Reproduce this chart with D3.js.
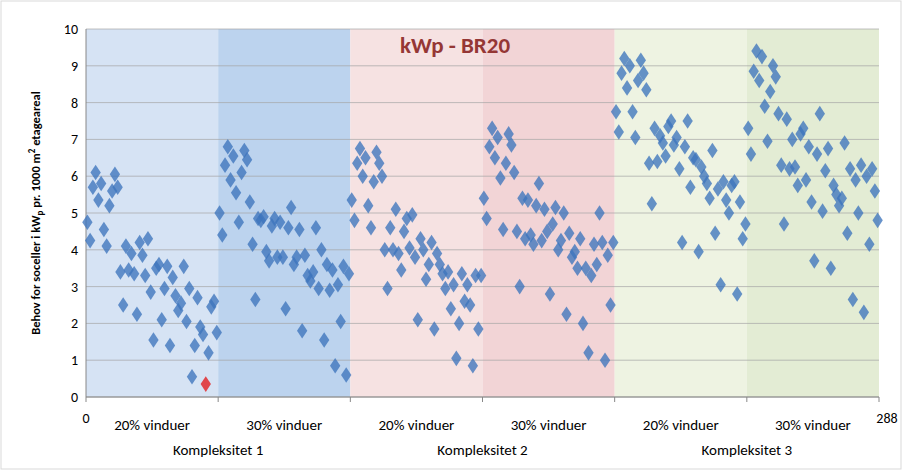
<!DOCTYPE html>
<html>
<head>
<script src="https://d3js.org/d3.v7.min.js"></script>
<style>
body{margin:0;background:#fff;font-family:Calibri,Carlito,"Liberation Sans",Arial,sans-serif;}
</style>
</head>
<body>
<div id="chart"></div>
<script>
// values per band of 48 points
var band1 = [4.75,4.25,5.7,6.1,5.35,5.8,4.55,4.1,5.2,5.6,6.05,5.7,3.4,2.5,4.1,3.45,3.9,3.35,2.25,4.2,3.85,3.3,4.3,2.85,1.55,3.5,3.6,2.1,2.95,3.55,1.4,3.25,2.75,2.35,2.55,3.55,2.05,2.95,0.55,1.4,2.7,1.9,1.7,0.35,1.2,2.45,2.6,1.75];
var band2 = [5.0,4.4,6.3,6.8,5.9,6.55,5.55,4.75,6.1,6.7,6.45,5.3,4.15,2.65,4.85,4.8,4.9,3.95,3.7,4.65,4.85,3.8,4.75,3.8,2.4,4.6,5.15,3.6,3.8,4.55,1.8,3.85,3.3,3.15,3.4,4.6,2.95,4.0,1.55,3.6,2.9,3.45,0.85,3.05,2.05,3.55,0.6,3.35];
var band3 = [5.35,4.8,6.35,6.75,6.0,6.5,5.2,4.6,5.85,6.65,6.35,6.0,4.0,2.95,4.6,4.0,5.1,3.9,3.45,4.5,4.85,4.05,4.95,3.8,2.1,4.3,4.0,3.2,3.6,4.2,1.85,3.9,3.6,3.35,2.95,3.4,2.4,3.05,1.05,2.0,3.35,2.6,3.05,2.5,0.85,3.3,1.85,3.3];
var band4 = [5.4,4.85,6.8,7.3,6.5,7.05,5.95,4.55,6.35,7.15,6.85,6.1,4.5,3.0,5.4,4.3,5.35,4.4,4.15,5.2,5.8,4.25,5.1,4.5,2.8,4.7,5.15,4.0,4.25,5.0,2.25,4.45,3.8,3.95,3.5,4.3,2.0,3.5,1.2,3.3,4.15,3.6,5.0,4.2,1.0,3.85,2.5,4.2];
var band5 = [7.75,7.2,8.8,9.2,8.4,9.0,7.75,7.05,8.6,9.15,8.8,8.35,6.35,5.25,7.3,6.4,7.1,6.9,6.55,7.35,7.5,6.85,7.05,6.2,4.2,6.8,7.5,5.7,6.5,6.45,3.95,6.25,6.0,5.8,5.4,6.7,4.45,5.65,3.05,5.85,5.35,5.0,5.75,5.85,2.8,5.3,4.3,4.7];
var band6 = [7.3,6.6,8.85,9.4,8.6,9.25,7.9,6.95,8.3,9.0,8.7,7.7,6.3,4.7,7.55,6.2,7.0,6.25,5.75,7.15,7.3,5.9,6.8,5.3,3.7,6.6,7.7,5.05,6.15,6.75,3.5,5.75,5.5,5.2,5.4,6.9,4.45,6.2,2.65,5.9,5.0,6.3,2.3,6.0,4.15,6.2,5.6,4.8];
var bandColors = ["#d6e3f4","#bcd3ee","#f6e2e2","#f2d4d6","#eef3e2","#e3ecd4"];
var windowLabels = ["20% vinduer","30% vinduer","20% vinduer","30% vinduer","20% vinduer","30% vinduer"];
var groupLabels = ["Kompleksitet 1","Kompleksitet 2","Kompleksitet 3"];
var yTicks = [0,1,2,3,4,5,6,7,8,9,10];
var redIndex = 43;

var values = [].concat(band1,band2,band3,band4,band5,band6);
var w=903, h=471;
var svg = d3.select("#chart").append("svg").attr("width",w).attr("height",h);
var x = d3.scaleLinear().domain([0,288]).range([86,879]);
var y = d3.scaleLinear().domain([0,10]).range([397,29]);

svg.append("rect").attr("x",1).attr("y",1).attr("width",w-3).attr("height",h-3)
	.attr("fill","none").attr("stroke","#d9d9d9");

// bands
svg.selectAll(".band").data(bandColors).enter().append("rect")
	.attr("x",function(d,i){return x(i*48);})
	.attr("width",function(d,i){return x((i+1)*48)-x(i*48);})
	.attr("y",y(10)).attr("height",y(0)-y(10))
	.attr("fill",function(d){return d;});

// gridlines
svg.selectAll(".grid").data(yTicks).enter().append("line")
	.attr("x1",x(0)).attr("x2",x(288))
	.attr("y1",function(d){return y(d);}).attr("y2",function(d){return y(d);})
	.attr("stroke","#a6a6a6").attr("stroke-width",1).attr("opacity",0.7);

svg.append("line").attr("x1",x(0)).attr("x2",x(0)).attr("y1",y(0)).attr("y2",y(10)).attr("stroke","#888");
svg.append("line").attr("x1",x(0)).attr("x2",x(288)).attr("y1",y(0)).attr("y2",y(0)).attr("stroke","#888");
svg.selectAll(".xt").data(d3.range(0,289,48)).enter().append("line")
	.attr("x1",function(d){return x(d);}).attr("x2",function(d){return x(d);})
	.attr("y1",y(0)).attr("y2",y(0)+5).attr("stroke","#888");

svg.selectAll(".yl").data(yTicks).enter().append("text")
	.attr("x",x(0)-8).attr("y",function(d){return y(d)+5;})
	.attr("text-anchor","end").attr("font-size",14).attr("fill","#000")
	.text(function(d){return d;});

svg.append("text").attr("x",x(0)).attr("y",423).attr("text-anchor","middle").attr("font-size",14).text("0");
svg.append("text").attr("x",x(288)+8).attr("y",423).attr("text-anchor","middle").attr("font-size",14).text("288");

svg.selectAll(".wl").data(windowLabels).enter().append("text")
	.attr("x",function(d,i){return x(i*48+24);}).attr("y",430)
	.attr("text-anchor","middle").attr("font-size",15).text(function(d){return d;});
svg.selectAll(".gl").data(groupLabels).enter().append("text")
	.attr("x",function(d,i){return x(i*96+48);}).attr("y",455)
	.attr("text-anchor","middle").attr("font-size",15).text(function(d){return d;});

// points
var sym = d3.symbol().type(d3.symbolDiamond).size(70);
svg.selectAll(".pt").data(values).enter().append("path")
	.attr("d",sym)
	.attr("transform",function(d,i){return "translate("+x(i+0.5)+","+y(d)+") scale(1.15,1)";})
	.attr("fill",function(d,i){return i===redIndex?"#e0474c":"#3d74bd";})
	.attr("opacity",function(d,i){return i===redIndex?1:0.78;});

svg.append("text").attr("x",455).attr("y",53).attr("text-anchor","middle")
	.attr("font-size",23).attr("font-weight","bold").attr("fill","#953735").text("kWp - BR20");

var yl = svg.append("text").attr("transform","translate(40,213) rotate(-90)")
	.attr("text-anchor","middle").attr("font-size",12.5).attr("font-weight","bold");
yl.append("tspan").text("Behov for soceller i kW");
yl.append("tspan").attr("font-size",9).attr("dy",3).text("p");
yl.append("tspan").attr("dy",-3).text(" pr. 1000 m");
yl.append("tspan").attr("font-size",9).attr("dy",-5).text("2");
yl.append("tspan").attr("dy",5).text(" etageareal");
</script>
</body>
</html>
